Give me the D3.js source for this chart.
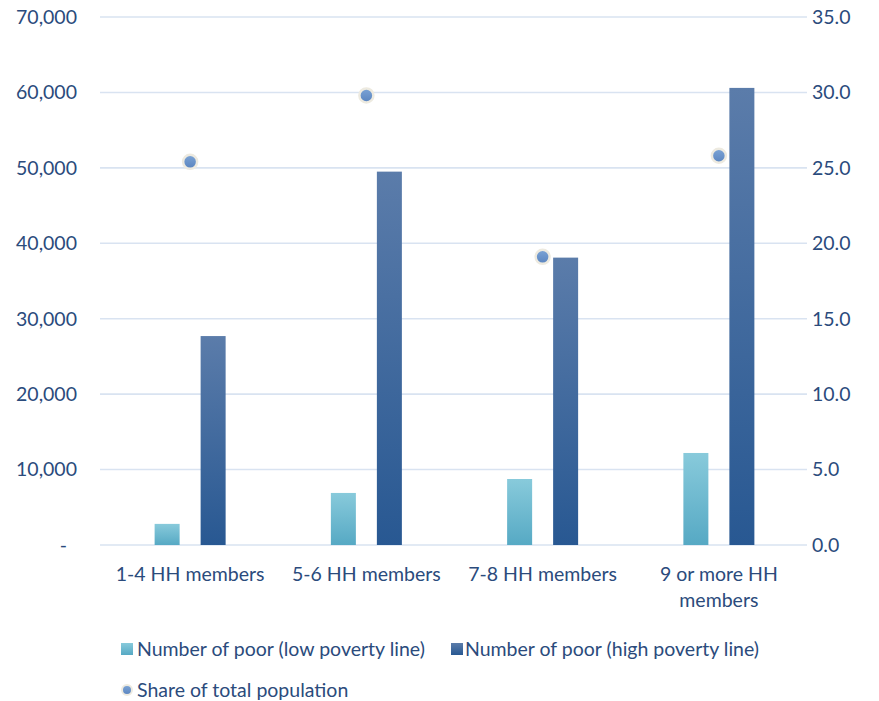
<!DOCTYPE html>
<html>
<head>
<meta charset="utf-8">
<script src="https://cdn.jsdelivr.net/npm/d3@7"></script>
<style>
  body { margin: 0; background: #fff; }
  text { font-family: Lato, "Open Sans", sans-serif; fill: #2B4B7C; }
</style>
</head>
<body>
<svg id="chart" width="879" height="701"></svg>
<script>
// Household size groups
const categories = ["1-4 HH members", "5-6 HH members", "7-8 HH members", "9 or more HH members"];
// Number of poor people by poverty line
const lowPoor = [2800, 6900, 8750, 12200];
const highPoor = [27700, 49500, 38100, 60600];
// Share of total population (%)
const popShare = [25.4, 29.8, 19.1, 25.8];
// Axis ticks
const leftTicks = [0, 10000, 20000, 30000, 40000, 50000, 60000, 70000];
const rightTicks = [0, 5, 10, 15, 20, 25, 30, 35];

const FS = 19.5;
const svg = d3.select("#chart");
const margin = { left: 102, right: 72, top: 17, bottom: 156 };
const W = 879, H = 701;
const plotL = margin.left, plotR = W - margin.right;
const plotT = margin.top, plotB = H - margin.bottom;

const x = d3.scaleBand().domain(categories).range([plotL, plotR]);
const yL = d3.scaleLinear().domain([0, 70000]).range([plotB, plotT]);
const yR = d3.scaleLinear().domain([0, 35]).range([plotB, plotT]);

const defs = svg.append("defs");
function vGrad(id, top, bottom) {
  const g = defs.append("linearGradient").attr("id", id)
    .attr("x1", 0).attr("y1", 0).attr("x2", 0).attr("y2", 1);
  g.append("stop").attr("offset", "0%").attr("stop-color", top);
  g.append("stop").attr("offset", "100%").attr("stop-color", bottom);
}
vGrad("gLow", "#88CADB", "#56A9C4");
vGrad("gHigh", "#5B7CAA", "#285892");
vGrad("gDot", "#7CA4D6", "#5A84BF");

// Gridlines
svg.append("g").selectAll("line").data(leftTicks).join("line")
  .attr("x1", 100).attr("x2", 807)
  .attr("y1", d => yL(d)).attr("y2", d => yL(d))
  .attr("stroke", "#D9E3F1").attr("stroke-width", 1.6);

// Left axis labels
const fmt = d3.format(",");
svg.append("g").selectAll("text").data(leftTicks).join("text")
  .attr("x", d => d === 0 ? 67 : 77).attr("y", d => yL(d)).attr("dy", "0.35em")
  .attr("text-anchor", "end").attr("font-size", FS)
  .text(d => d === 0 ? "-" : fmt(d));

// Right axis labels
svg.append("g").selectAll("text").data(rightTicks).join("text")
  .attr("x", 812).attr("y", d => yR(d)).attr("dy", "0.35em")
  .attr("text-anchor", "start").attr("font-size", FS)
  .text(d => d3.format(".1f")(d));

// Bars
const barW = 25, gap = 21;
const groupOff = x.bandwidth() / 2 - (barW * 2 + gap) / 2;
svg.append("g").selectAll("rect").data(lowPoor).join("rect")
  .attr("x", (d, i) => x(categories[i]) + groupOff)
  .attr("y", d => yL(d)).attr("width", barW)
  .attr("height", d => yL(0) - yL(d)).attr("fill", "url(#gLow)");
svg.append("g").selectAll("rect").data(highPoor).join("rect")
  .attr("x", (d, i) => x(categories[i]) + groupOff + barW + gap)
  .attr("y", d => yL(d)).attr("width", barW)
  .attr("height", d => yL(0) - yL(d)).attr("fill", "url(#gHigh)");

// Share markers
svg.append("g").selectAll("circle").data(popShare).join("circle")
  .attr("cx", (d, i) => x(categories[i]) + x.bandwidth() / 2)
  .attr("cy", d => yR(d)).attr("r", 7)
  .attr("fill", "url(#gDot)").attr("stroke", "#EDEAE0").attr("stroke-width", 2.5);

// Category labels
const catLines = [["1-4 HH members"], ["5-6 HH members"], ["7-8 HH members"], ["9 or more HH", "members"]];
svg.append("g").selectAll("text").data(categories).join("text")
  .attr("x", d => x(d) + x.bandwidth() / 2).attr("y", 581)
  .attr("text-anchor", "middle").attr("font-size", FS)
  .each(function (d, i) {
    d3.select(this).selectAll("tspan").data(catLines[i]).join("tspan")
      .attr("x", x(d) + x.bandwidth() / 2)
      .attr("dy", (t, j) => j === 0 ? 0 : 26)
      .text(t => t);
  });

// Legend
const lg = svg.append("g");
lg.append("rect").attr("x", 121).attr("y", 643).attr("width", 12).attr("height", 12).attr("fill", "url(#gLow)");
lg.append("text").attr("x", 137).attr("y", 649).attr("dy", "0.35em").attr("font-size", FS)
  .text("Number of poor (low poverty line)");
lg.append("rect").attr("x", 451).attr("y", 643).attr("width", 12).attr("height", 12).attr("fill", "url(#gHigh)");
lg.append("text").attr("x", 465).attr("y", 649).attr("dy", "0.35em").attr("font-size", FS)
  .text("Number of poor (high poverty line)");
lg.append("circle").attr("cx", 127).attr("cy", 690).attr("r", 5)
  .attr("fill", "url(#gDot)").attr("stroke", "#EDEAE0").attr("stroke-width", 2);
lg.append("text").attr("x", 137).attr("y", 690).attr("dy", "0.35em").attr("font-size", FS)
  .text("Share of total population");
</script>
</body>
</html>
